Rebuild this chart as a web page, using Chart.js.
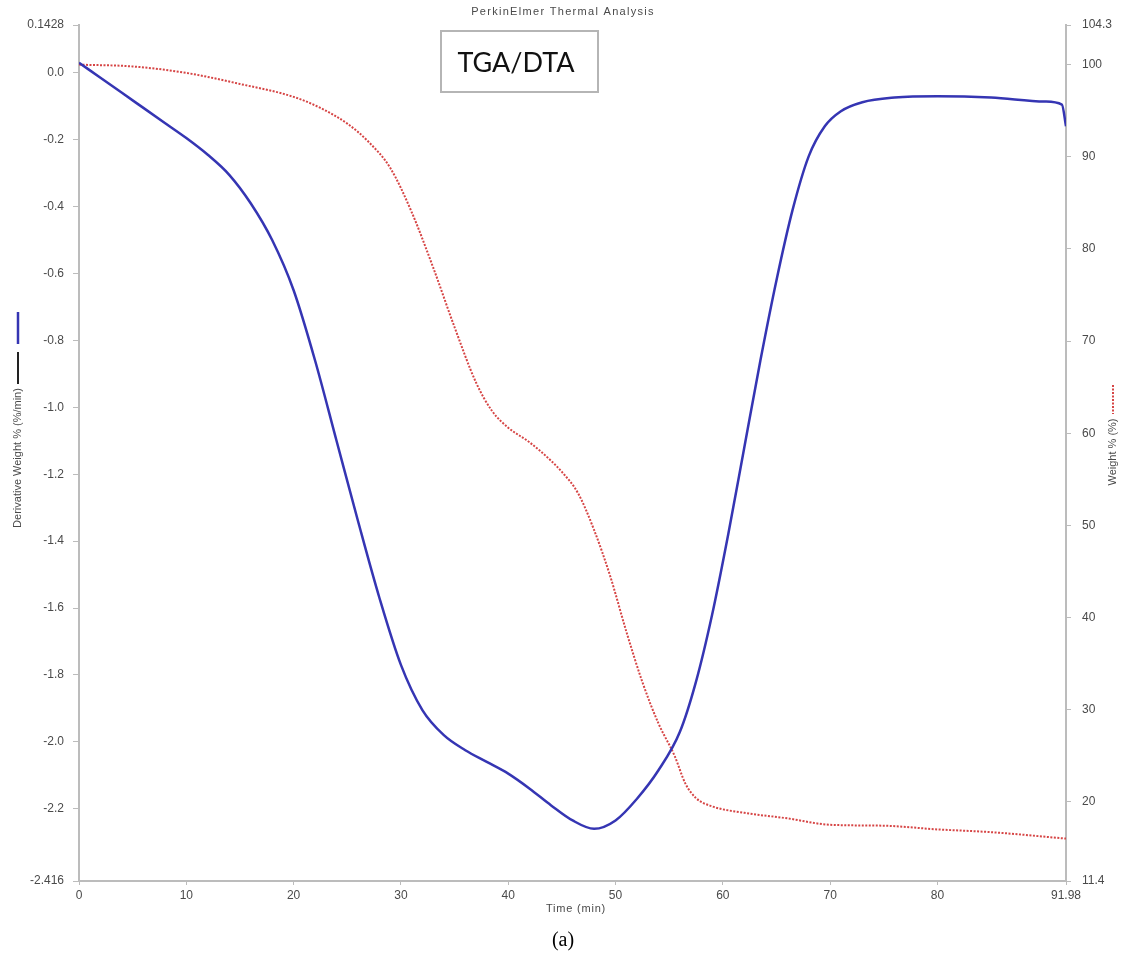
<!DOCTYPE html>
<html>
<head>
<meta charset="utf-8">
<script src="https://cdn.jsdelivr.net/npm/chart.js@4.4.1/dist/chart.umd.min.js"></script>
<style>
  html, body { margin: 0; padding: 0; background: #ffffff; }
  #wrap { width: 1128px; height: 967px; position: relative; }
  canvas { display: block; }
</style>
</head>
<body>
<div id="wrap"><canvas id="c" width="1128" height="967"></canvas></div>
<script>
// ---------- data ----------
const derivTime = [0, 2, 4, 6, 8, 10, 12, 14, 16, 18, 20, 22, 24, 26, 28, 30, 32, 34, 36, 38, 40, 42, 44, 46, 48, 50, 52, 54, 56, 57.5, 59, 60.5, 62, 63.5, 65, 66.5, 68, 69.5, 71, 73, 76, 80, 85, 90, 91.6, 91.98];
const derivWeight = [0.03, -0.015, -0.06, -0.105, -0.15, -0.195, -0.245, -0.305, -0.39, -0.5, -0.65, -0.86, -1.1, -1.34, -1.57, -1.77, -1.905, -1.98, -2.025, -2.06, -2.095, -2.14, -2.19, -2.235, -2.26, -2.235, -2.17, -2.085, -1.97, -1.82, -1.62, -1.38, -1.12, -0.86, -0.62, -0.41, -0.25, -0.16, -0.115, -0.088, -0.074, -0.07, -0.074, -0.086, -0.095, -0.16];

const weightTime = [0, 5, 10, 15, 20, 22.5, 25, 27, 29, 31, 33, 35, 37, 38.5, 40, 42, 44, 45, 46.5, 48, 49.5, 51, 52.5, 54, 55.5, 56.5, 57.5, 59, 62, 66, 70, 75, 80, 85, 91.98];
const weightPct = [100.0, 99.8, 99.1, 97.9, 96.5, 95.3, 93.6, 91.6, 88.8, 84.0, 78.0, 71.5, 65.5, 62.4, 60.6, 59.0, 57.0, 55.8, 53.5, 49.5, 44.5, 38.5, 33.0, 28.5, 25.0, 22.0, 20.4, 19.5, 18.8, 18.2, 17.5, 17.4, 17.0, 16.7, 16.0];

const xTickValues = [0, 10, 20, 30, 40, 50, 60, 70, 80, 91.98];
const xTickLabels = ["0", "10", "20", "30", "40", "50", "60", "70", "80", "91.98"];
const leftTickValues = [0.1428, 0.0, -0.2, -0.4, -0.6, -0.8, -1.0, -1.2, -1.4, -1.6, -1.8, -2.0, -2.2, -2.416];
const leftTickLabels = ["0.1428", "0.0", "-0.2", "-0.4", "-0.6", "-0.8", "-1.0", "-1.2", "-1.4", "-1.6", "-1.8", "-2.0", "-2.2", "-2.416"];
const rightTickValues = [104.3, 100, 90, 80, 70, 60, 50, 40, 30, 20, 11.4];
const rightTickLabels = ["104.3", "100", "90", "80", "70", "60", "50", "40", "30", "20", "11.4"];

const chartTitle = "PerkinElmer Thermal Analysis";
const boxLabel = "TGA/DTA";
const leftAxisTitle = "Derivative Weight % (%/min)";
const rightAxisTitle = "Weight % (%)";
const xAxisTitle = "Time (min)";
const caption = "(a)";

// ---------- styles ----------
const BLUE = "#3535b3";
const RED = "#d64545";
const AXIS = "#bcbcbc";
const TEXT = "#4a4a4a";
const tickFont = { family: "'Liberation Sans', Arial, sans-serif", size: 12 };

function labelFor(values, labels) {
  return function (v) {
    for (let i = 0; i < values.length; i++) {
      if (Math.abs(values[i] - v) < 1e-6) return labels[i];
    }
    return "";
  };
}

const decorations = {
  id: "decorations",
  afterDraw(chart) {
    const ctx = chart.ctx;
    ctx.save();
    // top title
    ctx.fillStyle = TEXT;
    ctx.font = "11px 'Liberation Sans', Arial, sans-serif";
    ctx.textAlign = "center";
    ctx.textBaseline = "middle";
    try { ctx.letterSpacing = "1.3px"; } catch (e) {}
    ctx.fillText(chartTitle, 563, 12);
    try { ctx.letterSpacing = "0px"; } catch (e) {}

    // TGA/DTA box
    ctx.strokeStyle = "#b5b5b5";
    ctx.lineWidth = 2;
    ctx.strokeRect(441, 31, 157, 61);
    ctx.fillStyle = "#111";
    ctx.font = "27px Lato, 'Open Sans', sans-serif";
    ctx.fillText(boxLabel, 516, 63);

    // left axis title + legend marks
    ctx.lineWidth = 2.5;
    ctx.strokeStyle = BLUE;
    ctx.beginPath(); ctx.moveTo(18, 312); ctx.lineTo(18, 344); ctx.stroke();
    ctx.strokeStyle = "#222";
    ctx.lineWidth = 2;
    ctx.beginPath(); ctx.moveTo(18, 352); ctx.lineTo(18, 384); ctx.stroke();
    ctx.save();
    ctx.translate(18, 458);
    ctx.rotate(-Math.PI / 2);
    ctx.fillStyle = TEXT;
    ctx.font = "11px 'Liberation Sans Narrow', 'Liberation Sans', Arial, sans-serif";
    ctx.fillText(leftAxisTitle, 0, 0);
    ctx.restore();

    // right axis title + legend mark
    ctx.strokeStyle = RED;
    ctx.lineWidth = 2;
    ctx.setLineDash([2, 1.5]);
    ctx.beginPath(); ctx.moveTo(1113, 385); ctx.lineTo(1113, 414); ctx.stroke();
    ctx.setLineDash([]);
    ctx.save();
    ctx.translate(1113, 452);
    ctx.rotate(-Math.PI / 2);
    ctx.fillStyle = TEXT;
    ctx.font = "11px 'Liberation Sans Narrow', 'Liberation Sans', Arial, sans-serif";
    ctx.fillText(rightAxisTitle, 0, 0);
    ctx.restore();

    // x axis title
    ctx.fillStyle = TEXT;
    ctx.font = "11px 'Liberation Sans', Arial, sans-serif";
    try { ctx.letterSpacing = "0.8px"; } catch (e) {}
    ctx.fillText(xAxisTitle, 576, 909);
    try { ctx.letterSpacing = "0px"; } catch (e) {}

    // caption
    ctx.fillStyle = "#000";
    ctx.font = "20px 'Liberation Serif', 'Times New Roman', serif";
    ctx.fillText(caption, 563, 941);
    ctx.restore();
  }
};

new Chart(document.getElementById("c"), {
  type: "line",
  data: {
    datasets: [
      {
        label: "Derivative Weight % (%/min)",
        data: derivTime.map((t, i) => ({ x: t, y: derivWeight[i] })),
        yAxisID: "yL",
        borderColor: BLUE,
        borderWidth: 2.5,
        pointRadius: 0,
        cubicInterpolationMode: "monotone",
        fill: false
      },
      {
        label: "Weight % (%)",
        data: weightTime.map((t, i) => ({ x: t, y: weightPct[i] })),
        yAxisID: "yR",
        borderColor: RED,
        borderWidth: 2,
        borderDash: [2, 1.5],
        pointRadius: 0,
        cubicInterpolationMode: "monotone",
        fill: false
      }
    ]
  },
  options: {
    responsive: false,
    animation: false,
    layout: { padding: { top: 25, left: 0, right: 0, bottom: 0 } },
    plugins: {
      legend: { display: false },
      tooltip: { enabled: false },
      title: { display: false }
    },
    scales: {
      x: {
        type: "linear",
        position: "bottom",
        min: 0,
        max: 91.98,
        afterBuildTicks: (s) => { s.ticks = xTickValues.map(v => ({ value: v })); },
        afterFit: (s) => { s.height = 86; },
        ticks: {
          autoSkip: false, maxRotation: 0, padding: 3,
          color: TEXT, font: tickFont,
          callback: labelFor(xTickValues, xTickLabels)
        },
        grid: { drawOnChartArea: false, drawTicks: true, tickLength: 4, color: AXIS, lineWidth: 1 },
        border: { display: true, color: AXIS, width: 2 }
      },
      yL: {
        type: "linear",
        position: "left",
        min: -2.416,
        max: 0.1428,
        afterBuildTicks: (s) => { s.ticks = leftTickValues.map(v => ({ value: v })); },
        afterFit: (s) => { s.width = 79; },
        ticks: {
          autoSkip: false, padding: 9,
          color: TEXT, font: tickFont,
          callback: labelFor(leftTickValues, leftTickLabels)
        },
        grid: { drawOnChartArea: false, drawTicks: true, tickLength: 6, color: AXIS, lineWidth: 1 },
        border: { display: true, color: AXIS, width: 2 }
      },
      yR: {
        type: "linear",
        position: "right",
        min: 11.4,
        max: 104.3,
        afterBuildTicks: (s) => { s.ticks = rightTickValues.map(v => ({ value: v })); },
        afterFit: (s) => { s.width = 62; },
        ticks: {
          autoSkip: false, padding: 11,
          color: TEXT, font: tickFont,
          callback: labelFor(rightTickValues, rightTickLabels)
        },
        grid: { drawOnChartArea: false, drawTicks: true, tickLength: 5, color: AXIS, lineWidth: 1 },
        border: { display: true, color: AXIS, width: 2 }
      }
    }
  },
  plugins: [decorations]
});
</script>
</body>
</html>
